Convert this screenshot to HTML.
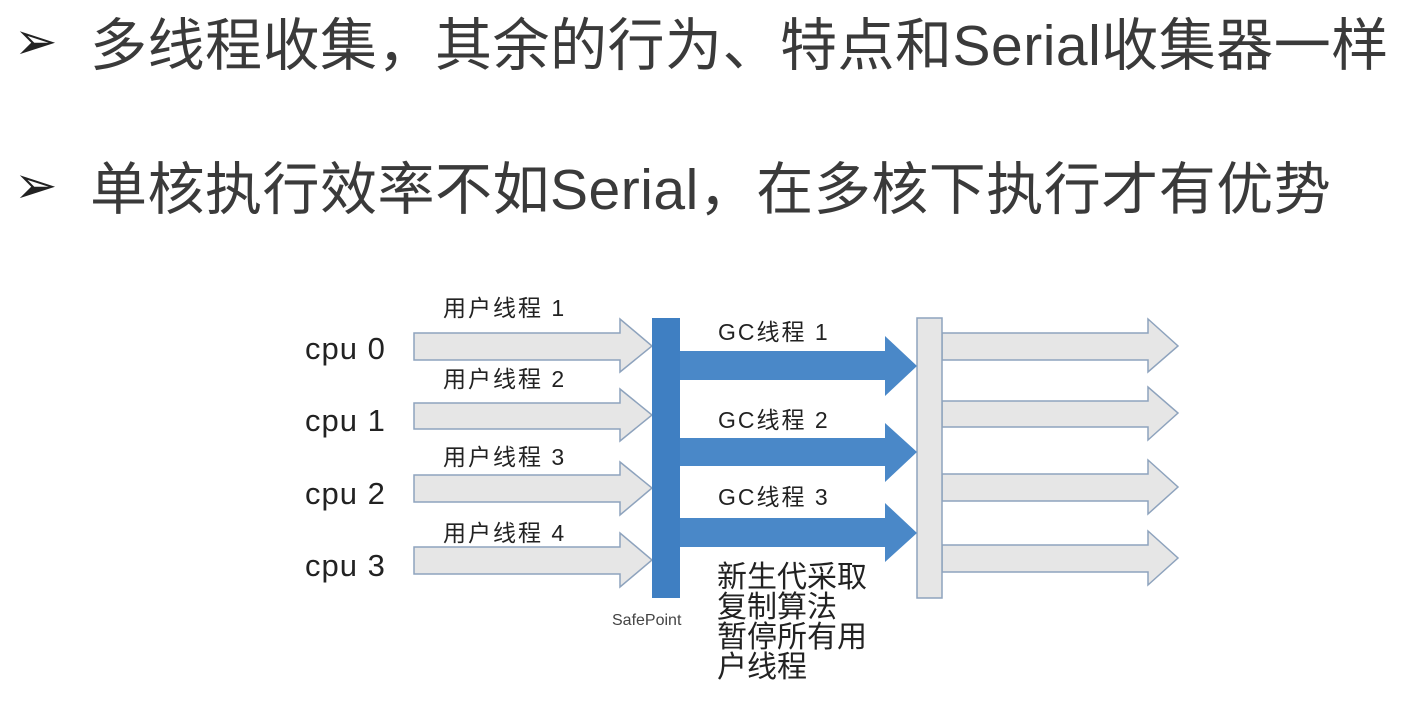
<!DOCTYPE html>
<html><head><meta charset="utf-8"><style>
html,body{margin:0;padding:0;background:#fff;}
body{width:1404px;height:702px;position:relative;overflow:hidden;font-family:"Liberation Sans","Noto Sans CJK SC",sans-serif;color:#333;}
.t{position:absolute;white-space:nowrap;line-height:1;}
.h{font-size:57px;left:90px;color:#3a3a3a;letter-spacing:0.5px;}
.b{font-size:52px;left:14px;color:#222;}
.cpu{font-size:31px;left:305px;color:#222;letter-spacing:1px;}
.u{font-size:23px;left:443px;color:#222;letter-spacing:2px;}
.g{font-size:23px;left:718px;color:#222;letter-spacing:2px;}
</style></head><body>
<div class="t b" style="top:16px">➢</div>
<div class="t h" style="top:18px">多线程收集，其余的行为、特点和Serial收集器一样</div>
<div class="t b" style="top:160px">➢</div>
<div class="t h" style="top:162px">单核执行效率不如Serial，在多核下执行才有优势</div>

<svg width="1404" height="702" style="position:absolute;left:0;top:0">
<g fill="#e6e6e6" stroke="#8ea3bd" stroke-width="1.5">
<polygon points="414,333 620,333 620,319 652,346 620,372 620,360 414,360"/>
<polygon points="414,403 620,403 620,389 652,415 620,441 620,429 414,429"/>
<polygon points="414,475 620,475 620,462 652,488 620,515 620,502 414,502"/>
<polygon points="414,547 620,547 620,533 652,560 620,587 620,574 414,574"/>
<polygon points="942,333 1148,333 1148,319 1178,346 1148,372 1148,360 942,360"/>
<polygon points="942,401 1148,401 1148,387 1178,413 1148,440 1148,427 942,427"/>
<polygon points="942,474 1148,474 1148,460 1178,487 1148,514 1148,501 942,501"/>
<polygon points="942,545 1148,545 1148,531 1178,558 1148,585 1148,572 942,572"/>
<rect x="917" y="318" width="25" height="280"/>
</g>
<g fill="#4a88c8">
<polygon points="680,351 885,351 885,336 917,366 885,396 885,380 680,380"/>
<polygon points="680,438 885,438 885,423 917,452 885,482 885,466 680,466"/>
<polygon points="680,518 885,518 885,503 917,533 885,562 885,547 680,547"/>
<rect x="652" y="318" width="28" height="280" fill="#3f7fc2"/>
</g>
</svg>

<div class="t cpu" style="top:333px">cpu 0</div>
<div class="t cpu" style="top:405px">cpu 1</div>
<div class="t cpu" style="top:478px">cpu 2</div>
<div class="t cpu" style="top:550px">cpu 3</div>
<div class="t u" style="top:297px">用户线程 1</div>
<div class="t u" style="top:368px">用户线程 2</div>
<div class="t u" style="top:446px">用户线程 3</div>
<div class="t u" style="top:522px">用户线程 4</div>
<div class="t g" style="top:321px">GC线程 1</div>
<div class="t g" style="top:409px">GC线程 2</div>
<div class="t g" style="top:486px">GC线程 3</div>
<div class="t" style="top:613px;left:612px;font-size:16px;color:#444">SafePoint</div>
<div class="t" style="top:563px;left:717px;font-size:30px;line-height:30px;color:#222">新生代采取<br>复制算法<br>暂停所有用<br>户线程</div>
</body></html>
